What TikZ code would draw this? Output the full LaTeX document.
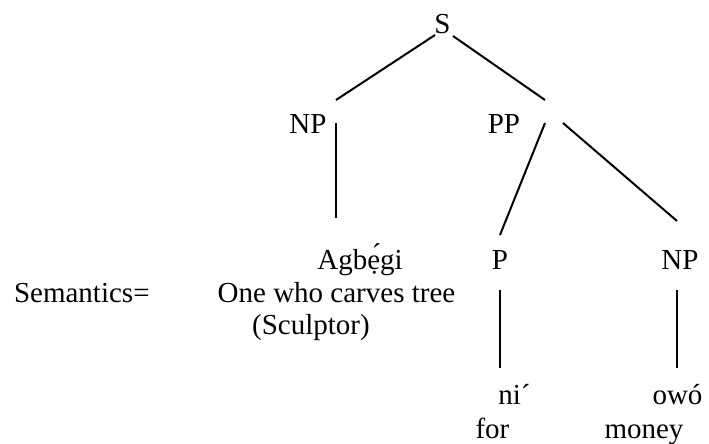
\documentclass[tikz,border=0pt]{standalone}
\usepackage{fontspec}
\setmainfont{Liberation Serif}
\begin{document}
\begin{tikzpicture}[x=0.5pt,y=-0.5pt,
  lbl/.style={anchor=base,inner sep=0pt,font=\fontsize{14.5}{17}\selectfont},
  branch/.style={line width=1pt}]
\useasboundingbox (0,0) rectangle (709,444);

% tree labels
\node[lbl] (s)    at (442.5,34) {S};
\node[lbl] (np1)  at (308,134) {NP};
\node[lbl] (pp)   at (504,134) {PP};
\node[lbl] (agb)  at (360,270) {Agbẹ́gi};
\node[lbl] (p)    at (500,270) {P};
\node[lbl] (np2)  at (680,270) {NP};
\node[lbl,anchor=base west] (ni)  at (498,405) {ni´};
\node[lbl] (owo)  at (677.5,405) {owó};
\node[lbl] (for)  at (492.5,439) {for};
\node[lbl] (money) at (644,439) {money};

% glosses
\node[lbl,anchor=base east] (sem) at (150,303) {Semantics=};
\node[lbl] (gloss) at (336.5,303) {One who carves tree};
\node[lbl] (sculp) at (311,335) {(Sculptor)};

% branch end points
\coordinate (sL)  at (435,35);
\coordinate (sR)  at (453,36);
\coordinate (np1T) at (336,100);
\coordinate (np1B) at (336,123);
\coordinate (agbT) at (336,218);
\coordinate (ppT) at (545,100);
\coordinate (ppL) at (545,123);
\coordinate (ppR) at (563,123);
\coordinate (pT)  at (500,235);
\coordinate (np2T) at (677,221);
\coordinate (pB)  at (500,290);
\coordinate (niT) at (500,368);
\coordinate (np2B) at (677,290);
\coordinate (owoT) at (677,368);

\draw[branch] (sL) -- (np1T);
\draw[branch] (sR) -- (ppT);
\draw[branch] (np1B) -- (agbT);
\draw[branch] (ppL) -- (pT);
\draw[branch] (ppR) -- (np2T);
\draw[branch] (pB) -- (niT);
\draw[branch] (np2B) -- (owoT);
\end{tikzpicture}
\end{document}
